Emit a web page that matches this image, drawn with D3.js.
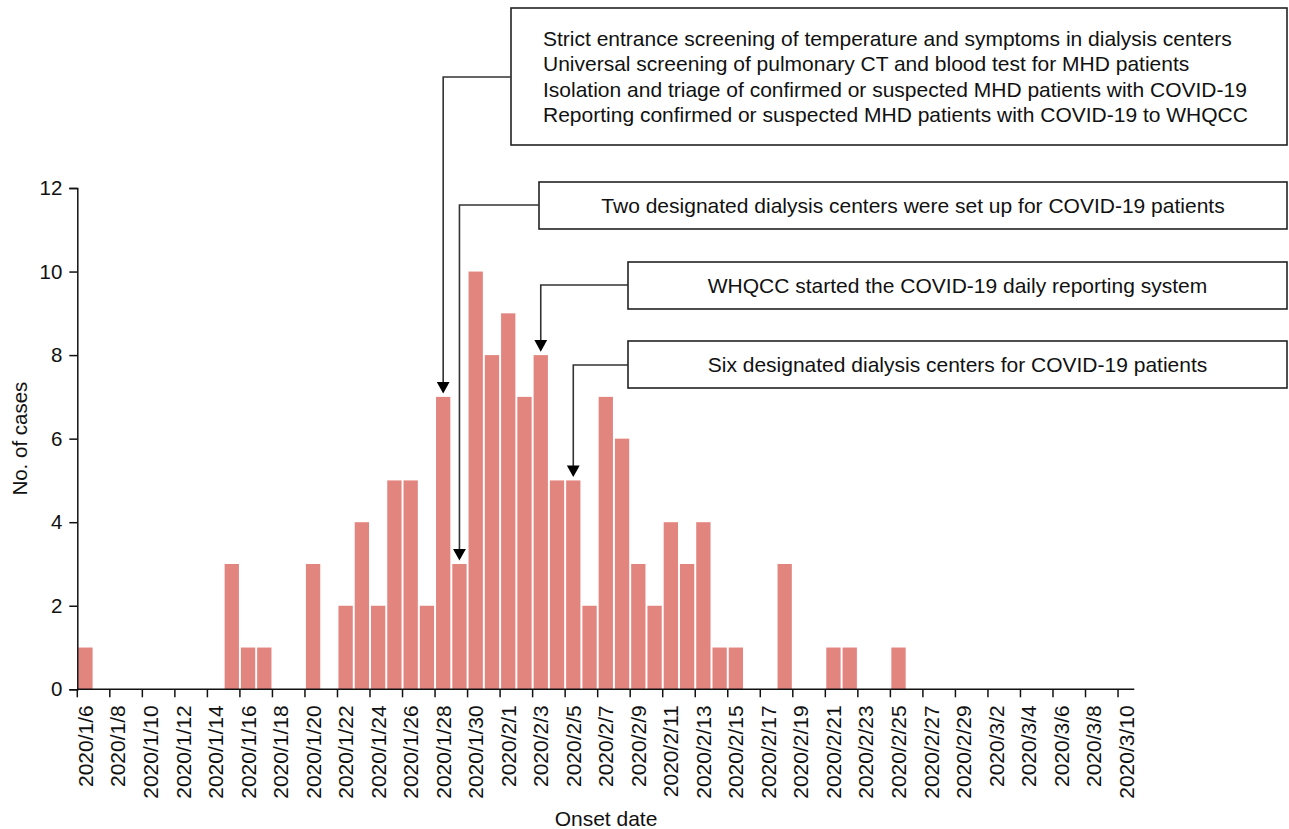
<!DOCTYPE html>
<html>
<head>
<meta charset="utf-8">
<script src="https://cdn.jsdelivr.net/npm/d3@7"></script>
<style>
  body { margin: 0; background: #fff; }
  svg { display: block; font-family: "Liberation Sans", Arial, Helvetica, sans-serif; }
</style>
</head>
<body>
<svg id="chart" width="1289" height="829"></svg>
<script>
// ---- data ----
const startDate = "2020-01-06";
const endDate = "2020-03-10";
const cases = [
  1, 0, 0, 0, 0, 0, 0, 0, 0, 3,   // 1/6 - 1/15
  1, 1, 0, 0, 3, 0, 2, 4, 2, 5,   // 1/16 - 1/25
  5, 2, 7, 3, 10, 8, 9, 7, 8, 5,  // 1/26 - 2/4
  5, 2, 7, 6, 3, 2, 4, 3, 4, 1,   // 2/5 - 2/14
  1, 0, 0, 3, 0, 0, 1, 1, 0, 0,   // 2/15 - 2/24
  1, 0, 0, 0, 0, 0, 0, 0, 0, 0,   // 2/25 - 3/5
  0, 0, 0, 0, 0                   // 3/6 - 3/10
];
const yTicks = [0, 2, 4, 6, 8, 10, 12];
const yTitle = "No. of cases";
const xTitle = "Onset date";
const annotations = [
  { date: "2020/1/28", lines: [
    "Strict entrance screening of temperature and symptoms in dialysis centers",
    "Universal screening of pulmonary CT and blood test for MHD patients",
    "Isolation and triage of confirmed or suspected MHD patients with COVID-19",
    "Reporting confirmed or suspected MHD patients with COVID-19 to WHQCC"] },
  { date: "2020/1/29", lines: ["Two designated dialysis centers were set up for COVID-19 patients"] },
  { date: "2020/2/3", lines: ["WHQCC started the COVID-19 daily reporting system"] },
  { date: "2020/2/5", lines: ["Six designated dialysis centers for COVID-19 patients"] }
];
// annotation box layout (pixels)
const boxLayout = [
  { x0: 511, x1: 1287, y0: 8, y1: 145, align: "left", connY: 77 },
  { x0: 539, x1: 1287, y0: 182, y1: 229, align: "center", connY: 205 },
  { x0: 628, x1: 1287, y0: 262, y1: 309, align: "center", connY: 285 },
  { x0: 628, x1: 1287, y0: 341, y1: 388, align: "center", connY: 365 }
];

// ---- build dates ----
const fmt = d => `${d.getFullYear()}/${d.getMonth() + 1}/${d.getDate()}`;
const parse = d3.timeParse("%Y-%m-%d");
const days = d3.timeDay.range(parse(startDate), d3.timeDay.offset(parse(endDate), 1));
const labels = days.map(fmt);
const data = labels.map((l, i) => ({ label: l, value: cases[i] }));

const svg = d3.select("#chart");
const W = 1289, H = 829;
const margin = { left: 77.3, right: W - 1134.3, top: 188, bottom: H - 689.3 };

const x = d3.scaleBand().domain(labels).range([margin.left, W - margin.right]).paddingInner(0.12).paddingOuter(0.06);
const y = d3.scaleLinear().domain([0, 12]).range([H - margin.bottom, margin.top]);

const barColor = "#e3857f";
const axisColor = "#111";
const fontSize = 21;

// bars
svg.append("g").selectAll("rect").data(data.filter(d => d.value > 0)).join("rect")
  .attr("x", d => x(d.label))
  .attr("width", x.bandwidth())
  .attr("y", d => y(d.value))
  .attr("height", d => y(0) - y(d.value))
  .attr("fill", barColor);

// x axis: ticks at band left edges, labels at band centres, every other day
const step = x.step();
const bandStart = l => x(l) - x.paddingInner() * step / 2;
const tickLabels = labels.filter((l, i) => i % 2 === 0);
const gx = svg.append("g");
gx.append("line")
  .attr("x1", margin.left).attr("x2", W - margin.right)
  .attr("y1", y(0)).attr("y2", y(0))
  .attr("stroke", axisColor).attr("stroke-width", 1.5);
gx.selectAll("line.tick").data(tickLabels).join("line").attr("class", "tick")
  .attr("x1", d => bandStart(d)).attr("x2", d => bandStart(d))
  .attr("y1", y(0)).attr("y2", y(0) + 8)
  .attr("stroke", axisColor).attr("stroke-width", 1.5);
gx.selectAll("text").data(tickLabels).join("text")
  .attr("transform", d => `translate(${x(d) + x.bandwidth() / 2 + 7.5},${y(0) + 16}) rotate(-90)`)
  .attr("text-anchor", "end")
  .attr("font-size", fontSize)
  .attr("fill", "#111")
  .text(d => d);

// y axis
const gy = svg.append("g").attr("transform", `translate(${margin.left},0)`)
  .call(d3.axisLeft(y).tickValues(yTicks).tickSize(8).tickPadding(7));
gy.select(".domain").attr("stroke", axisColor).attr("stroke-width", 1.5);
gy.selectAll(".tick line").attr("stroke", axisColor).attr("stroke-width", 1.5);
gy.selectAll(".tick text").attr("font-size", 20.5).attr("fill", "#111")
  .attr("font-family", "Liberation Sans, Arial, sans-serif");

// axis titles
svg.append("text")
  .attr("transform", `translate(27,${(y(0) + y(12)) / 2}) rotate(-90)`)
  .attr("text-anchor", "middle").attr("font-size", 20.5).attr("fill", "#111")
  .text(yTitle);
svg.append("text")
  .attr("x", 606).attr("y", 826)
  .attr("text-anchor", "middle").attr("font-size", fontSize).attr("fill", "#111")
  .text(xTitle);

// annotations
const ga = svg.append("g");
annotations.forEach((a, i) => {
  const b = boxLayout[i];
  const di = labels.indexOf(a.date);
  const cx = x(a.date) + x.bandwidth() / 2;
  const tipY = y(cases[di]) - 3.4;
  ga.append("rect")
    .attr("x", b.x0).attr("y", b.y0).attr("width", b.x1 - b.x0).attr("height", b.y1 - b.y0)
    .attr("fill", "#fff").attr("stroke", "#222").attr("stroke-width", 1.6);
  ga.append("path")
    .attr("d", `M${b.x0},${b.connY} H${cx} V${tipY - 10}`)
    .attr("fill", "none").attr("stroke", "#333").attr("stroke-width", 1.6);
  ga.append("path")
    .attr("d", `M${cx - 6.4},${tipY - 11.6} L${cx + 6.4},${tipY - 11.6} L${cx},${tipY} Z`)
    .attr("fill", "#000");
  const n = a.lines.length;
  const lh = 25.5;
  const midY = (b.y0 + b.y1) / 2;
  a.lines.forEach((t, j) => {
    ga.append("text")
      .attr("x", b.align === "left" ? 543 : (b.x0 + b.x1) / 2)
      .attr("y", midY + (j - (n - 1) / 2) * lh + 7.6)
      .attr("text-anchor", b.align === "left" ? "start" : "middle")
      .attr("font-size", 21).attr("fill", "#111")
      .text(t);
  });
});
</script>
</body>
</html>
